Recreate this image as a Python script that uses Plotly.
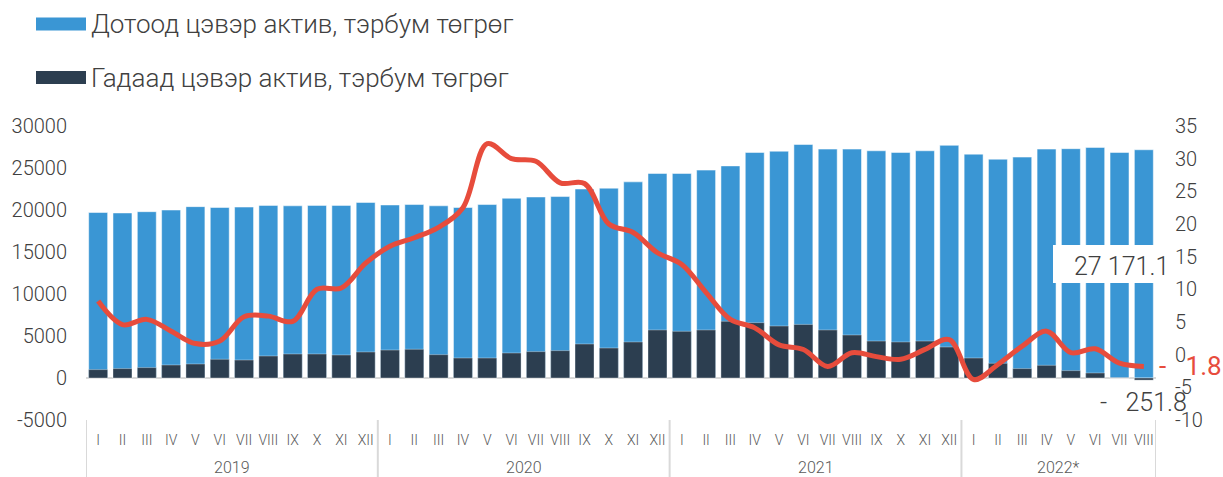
import plotly.graph_objects as go

# ---------------- data ----------------
months = (["I", "II", "III", "IV", "V", "VI", "VII", "VIII", "IX", "X", "XI", "XII"] * 3
          + ["I", "II", "III", "IV", "V", "VI", "VII", "VIII"])
year_labels = ["2019", "2020", "2021", "2022*"]
year_counts = [12, 12, 12, 8]

domestic = [19700, 19650, 19800, 20000, 20400, 20300, 20350, 20550, 20500, 20550, 20550, 20900,
            20600, 20650, 20500, 20300, 20650, 21400, 21550, 21600, 22500, 22600, 23350, 24350,
            24350, 24750, 25250, 26850, 27000, 27800, 27250, 27250, 27050, 26850, 27050, 27700,
            26650, 26050, 26300, 27250, 27300, 27450, 26850, 27171.1]

foreign = [1000, 1120, 1240, 1550, 1670, 2230, 2140, 2620, 2860, 2860, 2740, 3100,
           3330, 3420, 2780, 2380, 2380, 2980, 3140, 3260, 4050, 3570, 4290, 5720,
           5560, 5720, 6750, 6590, 6190, 6380, 5720, 5120, 4400, 4290, 4400, 3690,
           2380, 1750, 1120, 1510, 880, 600, 30, -251.8]

growth = [8.2, 4.6, 5.4, 3.6, 1.7, 2.1, 5.8, 5.9, 5.1, 10.0, 10.2, 14.0,
          16.6, 17.9, 19.5, 22.5, 32.3, 30.0, 29.6, 26.3, 26.2, 20.0, 18.7, 15.6,
          13.8, 9.5, 5.4, 4.1, 1.5, 0.8, -1.8, 0.3, -0.3, -0.7, 0.8, 2.3,
          -3.8, -1.5, 1.3, 3.6, 0.3, 0.9, -1.3, -1.8]

left_ticks = [-5000, 0, 5000, 10000, 15000, 20000, 25000, 30000]
right_ticks = [-10, -5, 0, 5, 10, 15, 20, 25, 30, 35]

name_domestic = "Дотоод цэвэр актив, тэрбум төгрөг"
name_foreign = "Гадаад цэвэр актив, тэрбум төгрөг"

# ---------------- style ----------------
BLUE = "#3a96d4"
DARK = "#2c3e50"
RED = "#e74c3c"
TXT = "#404040"
FONT = "Roboto"

W, H = 1223, 477
ML, MR, MT, MB = 86, 67, 126, 57
PW, PH = W - ML - MR, H - MT - MB


def px(xp):
    return (xp - ML) / PW


def py(yp):
    return (H - MB - yp) / PH


def fmt_num(v):
    s = f"{abs(v):,.1f}".replace(",", " ")
    return ("-   " + s) if v < 0 else s


idx = list(range(len(months)))

fig = go.Figure()
fig.add_bar(x=idx, y=domestic, name=name_domestic, width=0.78,
            marker=dict(color=BLUE, line=dict(color="rgba(255,255,255,0.5)", width=1)))
fig.add_bar(x=idx, y=foreign, name=name_foreign, width=0.78,
            marker=dict(color=DARK, line=dict(color="rgba(255,255,255,0.35)", width=1)))
fig.add_scatter(x=idx, y=growth, yaxis="y2", mode="lines", name="growth",
                line=dict(color=RED, width=5, shape="spline", smoothing=1.0))

shapes = []
annotations = []

# year group dividers and labels
start = 0
bounds = [-0.5]
for lab, cnt in zip(year_labels, year_counts):
    center = start + (cnt - 1) / 2
    annotations.append(dict(x=center, xref="x", y=py(467), yref="paper", text=lab,
                            showarrow=False, yanchor="middle", xanchor="center",
                            font=dict(size=16, color="#595959", family=FONT, weight=300)))
    start += cnt
    bounds.append(start - 0.5)
for b in bounds:
    shapes.append(dict(type="line", xref="x", yref="paper", x0=b, x1=b, y0=0, y1=py(H),
                       line=dict(color="#d9d9d9", width=2)))

# manual legend
for i, (nm, col) in enumerate([(name_domestic, BLUE), (name_foreign, DARK)]):
    yc = [24, 77.5][i]
    shapes.append(dict(type="rect", xref="paper", yref="paper", x0=px(36), x1=px(86),
                       y0=py(yc + 6.5), y1=py(yc - 6.5), fillcolor=col, line=dict(width=0)))
    annotations.append(dict(x=px(89), y=py(yc), xref="paper", yref="paper", text=nm,
                            showarrow=False, xanchor="left", yanchor="middle",
                            font=dict(size=26, color=TXT, family=FONT, weight=300)))

# white label box for last domestic value
shapes.append(dict(type="rect", xref="paper", yref="paper", x0=px(1053), x1=px(1160),
                   y0=py(283), y1=py(245), fillcolor="white", line=dict(width=0), layer="above"))
annotations.append(dict(x=px(1121), y=py(266), xref="paper", yref="paper",
                        text=fmt_num(domestic[-1]), showarrow=False,
                        xanchor="center", yanchor="middle",
                        font=dict(size=25, color=TXT, family=FONT, weight=300)))
# last foreign value
annotations.append(dict(x=px(1189), y=py(402), xref="paper", yref="paper",
                        text=fmt_num(foreign[-1]), showarrow=False,
                        xanchor="right", yanchor="middle",
                        font=dict(size=25, color=TXT, family=FONT, weight=300)))
# last growth value
g_last = growth[-1]
g_text = ("-   " + f"{abs(g_last):.1f}") if g_last < 0 else f"{g_last:.1f}"
annotations.append(dict(x=px(1224), y=g_last, xref="paper", yref="y2",
                        text=g_text, showarrow=False, xanchor="right", yanchor="middle",
                        font=dict(size=26, color=RED, family=FONT, weight=400)))

fig.update_layout(
    width=W, height=H,
    margin=dict(l=ML, r=MR, t=MT, b=MB, pad=0),
    barmode="overlay",
    showlegend=False,
    plot_bgcolor="white", paper_bgcolor="white",
    font=dict(family=FONT, color=TXT, weight=300),
    shapes=shapes, annotations=annotations,
    xaxis=dict(range=[-0.5, len(months) - 0.5], tickmode="array", tickvals=idx, ticktext=months,
               tickfont=dict(size=14, color="#595959", family=FONT, weight=300),
               showgrid=False, zeroline=False, showline=False, ticks="", ticklabelstandoff=10),
    yaxis=dict(range=[left_ticks[0], left_ticks[-1]], tickmode="array", tickvals=left_ticks,
               ticktext=[str(v) for v in left_ticks],
               tickfont=dict(size=20, color=TXT, family=FONT, weight=300),
               showgrid=False, zeroline=True, zerolinecolor="#d9d9d9", zerolinewidth=2,
               showline=False, ticks="", ticklabelstandoff=18),
    yaxis2=dict(range=[right_ticks[0], right_ticks[-1]], tickmode="array", tickvals=right_ticks,
                ticktext=[str(v) for v in right_ticks], overlaying="y", side="right",
                tickfont=dict(size=20, color=TXT, family=FONT, weight=300),
                showgrid=False, zeroline=False, showline=False, ticks="", ticklabelstandoff=18),
)

fig.write_html("out.html", config={"displayModeBar": False},
               post_script="document.body.style.margin='0px';document.body.style.overflow='hidden';")
